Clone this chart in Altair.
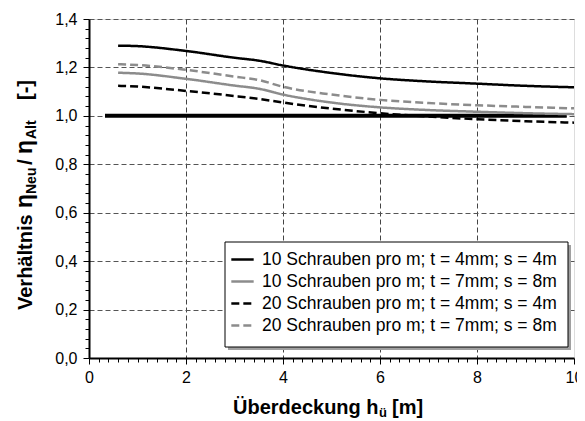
import altair as alt
import pandas as pd

# ---- data ----
hu = [0.6, 1.0, 2.0, 3.0, 3.5, 4.0, 5.0, 6.0, 7.0, 8.0, 9.0, 10.0]
s10_t4 = [1.290, 1.288, 1.268, 1.240, 1.228, 1.208, 1.177, 1.155, 1.142, 1.133, 1.124, 1.118]
s10_t7 = [1.178, 1.175, 1.153, 1.125, 1.112, 1.088, 1.055, 1.035, 1.024, 1.017, 1.011, 1.007]
s20_t4 = [1.124, 1.121, 1.103, 1.082, 1.070, 1.055, 1.030, 1.011, 0.997, 0.986, 0.978, 0.972]
s20_t7 = [1.213, 1.210, 1.190, 1.162, 1.148, 1.120, 1.088, 1.066, 1.053, 1.044, 1.037, 1.031]
ref_hu = [0.33, 9.85]
ref_val = [1.0, 1.0]

names = [
    "10 Schrauben pro m; t = 4mm; s = 4m",
    "10 Schrauben pro m; t = 7mm; s = 8m",
    "20 Schrauben pro m; t = 4mm; s = 4m",
    "20 Schrauben pro m; t = 7mm; s = 8m",
]
series_vals = [s10_t4, s10_t7, s20_t4, s20_t7]
colors = ["#000000", "#8c8c8c", "#000000", "#8c8c8c"]
dashes = [[1, 0], [1, 0], [8, 4], [8, 4]]

x_ticks = [round(i * 0.2, 2) for i in range(51)]
y_ticks = [round(i * 0.04, 2) for i in range(36)]

rows = []
for n, vals in zip(names, series_vals):
    for h, v in zip(hu, vals):
        rows.append({"hu": h, "value": v, "series": n})
df = pd.DataFrame(rows)
ref_df = pd.DataFrame({"hu": ref_hu, "value": ref_val})

FONT = "Liberation Sans"
W, H = 485, 339

x_major = "abs(datum.value/2 - round(datum.value/2)) < 0.001"
y_major = "abs(datum.value*5 - round(datum.value*5)) < 0.001"

x_scale = alt.Scale(domain=[0, 10], nice=False, zero=False)
y_scale = alt.Scale(domain=[0, 1.4], nice=False, zero=False)

x_axis = alt.Axis(
    values=x_ticks, title=None, orient="bottom",
    domainColor="black", domainWidth=2,
    tickColor="black", tickWidth=1,
    tickSize={"condition": {"test": x_major, "value": 6}, "value": 4},
    labelExpr=f"({x_major}) ? format(datum.value, 'd') : ''",
    labelFont=FONT, labelFontSize=16, labelColor="black", labelPadding=5,
    labelOverlap=False, labelFlush=False,
    grid=True, gridColor="#444444", gridDash=[5, 3], gridWidth=1,
    gridOpacity={"condition": {"test": f"({x_major}) && datum.value > 0 && datum.value < 10", "value": 1}, "value": 0},
)
y_axis = alt.Axis(
    values=y_ticks, title=None, orient="left",
    domainColor="black", domainWidth=2,
    tickColor="black", tickWidth=1,
    tickSize={"condition": {"test": y_major, "value": 6}, "value": 4},
    labelExpr=f"({y_major}) ? replace(format(datum.value, '.1f'), '.', ',') : ''",
    labelFont=FONT, labelFontSize=16, labelColor="black", labelPadding=6,
    labelOverlap=False, labelFlush=False,
    grid=True, gridColor="#555555", gridDash=[5, 3], gridWidth=1,
    gridOpacity={"condition": {"test": f"({y_major}) && datum.value > 0", "value": 1}, "value": 0},
)

legend = alt.Legend(
    title=None, orient="none", legendX=136, legendY=223,
    padding=5, symbolType="stroke", symbolSize=500,
    symbolStrokeWidth=2.5, rowPadding=1, labelOffset=7,
    labelFont=FONT, labelFontSize=17.5, labelColor="black",
    labelLimit=500)

ref_line = alt.Chart(ref_df).mark_line(color="black", strokeWidth=4).encode(
    x=alt.X("hu:Q", scale=x_scale, axis=x_axis),
    y=alt.Y("value:Q", scale=y_scale, axis=y_axis),
)

lines = alt.Chart(df).mark_line(strokeWidth=2.5, interpolate="monotone").encode(
    x=alt.X("hu:Q", scale=x_scale, axis=x_axis),
    y=alt.Y("value:Q", scale=y_scale, axis=y_axis),
    color=alt.Color("series:N", scale=alt.Scale(domain=names, range=colors),
                    sort=names, legend=legend),
    strokeDash=alt.StrokeDash("series:N", scale=alt.Scale(domain=names, range=dashes),
                              sort=names, legend=legend),
)

one = alt.Data(values=[{}])
shadow = alt.Chart(one).mark_rect(color="#a0a0a0").encode(
    x=alt.value(139), x2=alt.value(482), y=alt.value(226), y2=alt.value(331))
box = alt.Chart(one).mark_rect(fill="white", stroke="black", strokeWidth=1).encode(
    x=alt.value(136), x2=alt.value(479), y=alt.value(223), y2=alt.value(328))


def txt(s, x, y, size, angle=0, weight="bold"):
    return alt.Chart(one).mark_text(
        text=s, fontSize=size, fontWeight=weight, angle=angle, align="left",
        baseline="alphabetic", font=FONT, color="black",
    ).encode(x=alt.value(x), y=alt.value(y))


titles = [
    # y title (rotated)
    txt("Verhältnis", -57, 291, 20, 270),
    txt("η", -57, 189, 23, 270),
    txt("Neu", -53, 175, 14, 270),
    txt("/", -57, 146, 21, 270),
    txt("η", -57, 135, 23, 270),
    txt("Alt", -53, 120, 14, 270),
    txt("[-]", -57, 81, 20, 270),
    # x title
    txt("Überdeckung h", 144, 395, 20),
    txt("ü", 290, 398, 13),
    txt("[m]", 303, 395, 20),
]

chart = alt.layer(ref_line, lines, shadow, box, *titles).properties(
    width=W, height=H,
    autosize=alt.AutoSizeParams(type="none"),
    padding={"left": 81, "top": 11, "right": 3, "bottom": 63},
).configure_view(stroke="#222222", strokeWidth=1).configure(background="white")

chart.save("out.html", embed_options={"renderer": "svg", "actions": False})
